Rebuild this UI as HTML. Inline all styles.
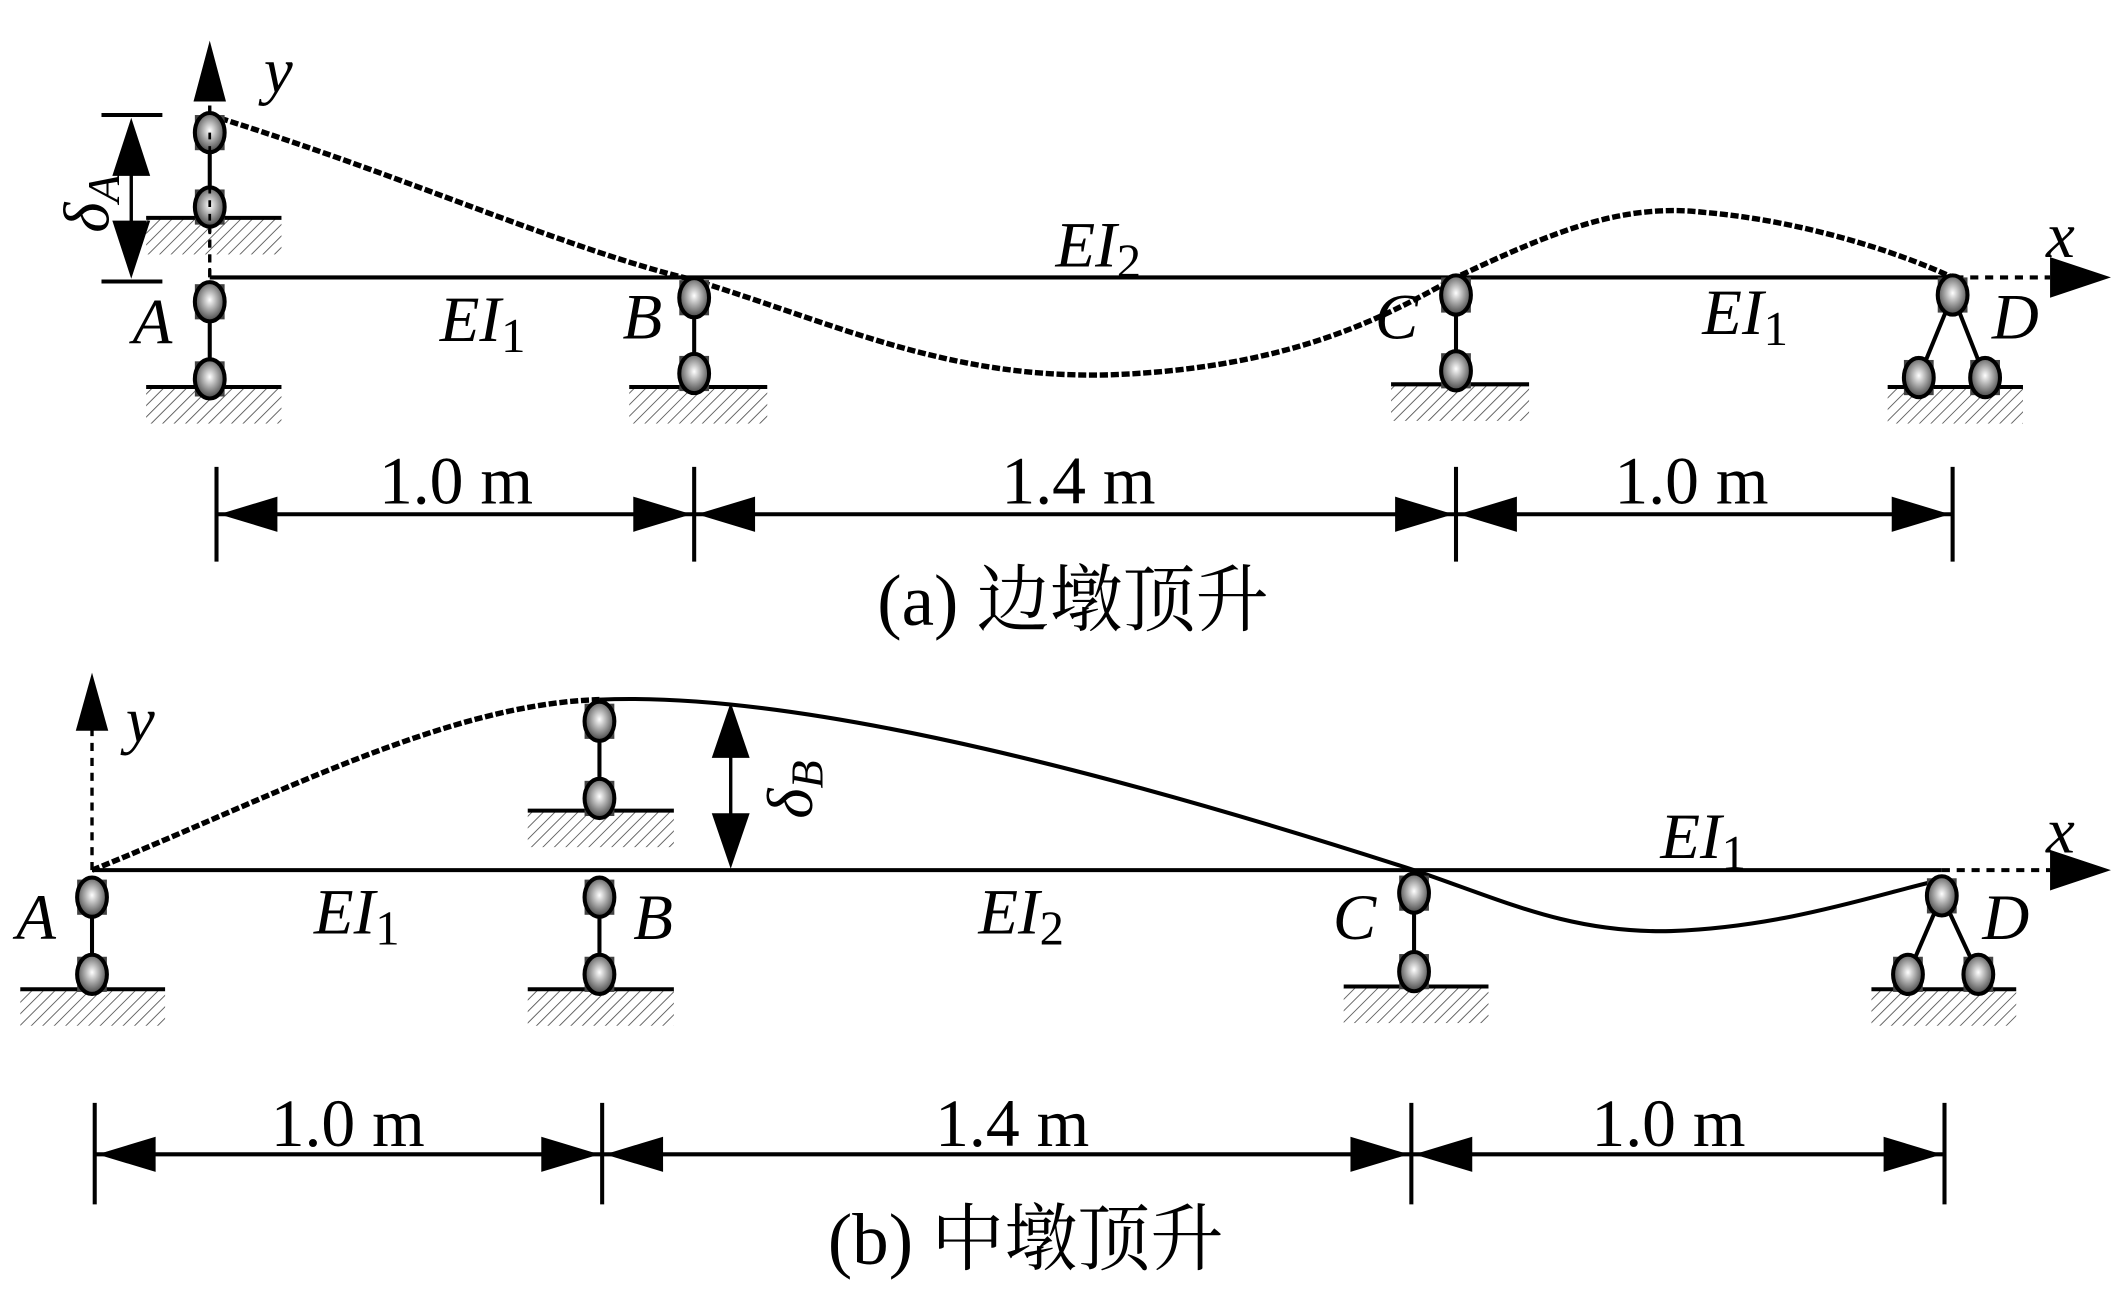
<!DOCTYPE html>
<html><head><meta charset="utf-8"><style>
html,body{margin:0;padding:0;background:#fff;}
svg{display:block}
text{font-family:"Liberation Serif","Noto Serif CJK SC",serif;fill:#000}
.it{font-style:italic}
</style></head><body>
<svg width="2115" height="1291" viewBox="0 0 1563 954" preserveAspectRatio="none" xmlns="http://www.w3.org/2000/svg">
<defs>
<radialGradient id="g" cx="50%" cy="45%" r="60%"><stop offset="0" stop-color="#fff"/><stop offset="0.5" stop-color="#999"/><stop offset="1" stop-color="#333"/></radialGradient>
<pattern id="h" width="6" height="6" patternUnits="userSpaceOnUse" patternTransform="rotate(45)"><line x1="0" y1="0" x2="0" y2="6" stroke="#555" stroke-width="1.3"/></pattern>
<g id="b"><rect x="-11" y="-13" width="22" height="26" fill="#444"/><ellipse rx="11" ry="14.5" fill="url(#g)" stroke="#000" stroke-width="3"/></g>
</defs>

<!-- ============ TOP PANEL ============ -->
<g stroke="#000" fill="none">
<line x1="155" y1="205" x2="1445" y2="205" stroke-width="3"/>
<line x1="1445" y1="205" x2="1515" y2="205" stroke-width="3" stroke-dasharray="6,5"/>
<line x1="155" y1="205" x2="155" y2="72" stroke-width="2.5" stroke-dasharray="6,5"/>
<path d="M155,85 C300,130 420,185 513,207 C620,240 700,280 820,277 C960,272 1030,230 1076,205 C1150,170 1200,150 1260,157 C1330,163 1400,185 1443,205" stroke-width="4" stroke-dasharray="6,2"/>
<line x1="75" y1="85" x2="120" y2="85" stroke-width="3"/>
<line x1="75" y1="208" x2="120" y2="208" stroke-width="3"/>
<line x1="97" y1="120" x2="97" y2="175" stroke-width="2.5"/>
</g>
<path d="M155,30 L143,75 L167,75Z"/>
<path d="M1560,205 L1515,190 L1515,220Z"/>
<path d="M97,87 L83,130 L111,130Z"/><path d="M97,206 L83,163 L111,163Z"/>
<rect x="108" y="162" width="100" height="26" fill="url(#h)"/><line x1="108" y1="161" x2="208" y2="161" stroke="#000" stroke-width="3"/>
<rect x="108" y="287" width="100" height="26" fill="url(#h)"/><line x1="108" y1="286" x2="208" y2="286" stroke="#000" stroke-width="3"/>
<rect x="465" y="287" width="102" height="26" fill="url(#h)"/><line x1="465" y1="286" x2="567" y2="286" stroke="#000" stroke-width="3"/>
<rect x="1028" y="285" width="102" height="26" fill="url(#h)"/><line x1="1028" y1="284" x2="1130" y2="284" stroke="#000" stroke-width="3"/>
<rect x="1395" y="287" width="100" height="26" fill="url(#h)"/><line x1="1395" y1="286" x2="1495" y2="286" stroke="#000" stroke-width="3"/>
<g stroke="#000" stroke-width="3"><line x1="155" y1="98" x2="155" y2="153"/><line x1="155" y1="223" x2="155" y2="280"/><line x1="513" y1="220" x2="513" y2="276"/><line x1="1076" y1="218" x2="1076" y2="274"/><line x1="1443" y1="218" x2="1418" y2="279"/><line x1="1443" y1="218" x2="1467" y2="279"/></g>
<use href="#b" x="155" y="98"/><use href="#b" x="155" y="153"/><use href="#b" x="155" y="223"/><use href="#b" x="155" y="280"/>
<use href="#b" x="513" y="220"/><use href="#b" x="513" y="276"/>
<use href="#b" x="1076" y="218"/><use href="#b" x="1076" y="274"/>
<use href="#b" x="1443" y="218"/><use href="#b" x="1418" y="279"/><use href="#b" x="1467" y="279"/>
<line x1="155" y1="98" x2="155" y2="205" stroke="#000" stroke-width="2" stroke-dasharray="5,5"/>
<g font-size="48">
<text x="195" y="68" class="it">y</text>
<text x="1512" y="190" class="it">x</text>
<text x="98" y="254" class="it">A</text>
<text x="460" y="250" class="it">B</text>
<text x="1016" y="250" class="it">C</text>
<text x="1472" y="250" class="it">D</text>
<text x="325" y="252" class="it">EI<tspan font-style="normal" font-size="36" dy="8">1</tspan></text>
<text x="780" y="197" class="it">EI<tspan font-style="normal" font-size="36" dy="8">2</tspan></text>
<text x="1258" y="247" class="it">EI<tspan font-style="normal" font-size="36" dy="8">1</tspan></text>
<text transform="translate(80,172) rotate(-90)" class="it">δ<tspan font-size="34" dy="8">A</tspan></text>
</g>
<g stroke="#000" stroke-width="3"><line x1="160" y1="345" x2="160" y2="415"/><line x1="513" y1="345" x2="513" y2="415"/><line x1="1076" y1="345" x2="1076" y2="415"/><line x1="1443" y1="345" x2="1443" y2="415"/>
<line x1="160" y1="380" x2="1443" y2="380"/></g>
<g><path d="M162,380 L205,367 L205,393Z"/><path d="M511,380 L468,367 L468,393Z"/><path d="M515,380 L558,367 L558,393Z"/><path d="M1074,380 L1031,367 L1031,393Z"/><path d="M1078,380 L1121,367 L1121,393Z"/><path d="M1441,380 L1398,367 L1398,393Z"/></g>
<g font-size="50" text-anchor="middle"><text x="337" y="372">1.0 m</text><text x="797" y="372">1.4 m</text><text x="1250" y="372">1.0 m</text>
<text x="793" y="462" font-size="54">(a) 边墩顶升</text></g>

<!-- ============ BOTTOM PANEL ============ -->
<g stroke="#000" fill="none">
<line x1="68" y1="643" x2="1435" y2="643" stroke-width="3"/>
<line x1="1435" y1="643" x2="1515" y2="643" stroke-width="3" stroke-dasharray="6,5"/>
<line x1="68" y1="643" x2="68" y2="538" stroke-width="2.5" stroke-dasharray="6,5"/>
<path d="M68,643 C200,590 330,520 443,517" stroke-width="4" stroke-dasharray="6,2"/>
<path d="M443,517 C600,510 850,580 1045,643 C1110,665 1160,690 1235,688 C1320,685 1390,660 1435,650" stroke-width="3"/>
<line x1="540" y1="550" x2="540" y2="610" stroke-width="2.5"/>
</g>
<path d="M68,497 L56,540 L80,540Z"/>
<path d="M1560,643 L1515,628 L1515,658Z"/>
<path d="M540,519 L526,560 L554,560Z"/><path d="M540,642 L526,601 L554,601Z"/>
<rect x="15" y="732" width="107" height="26" fill="url(#h)"/><line x1="15" y1="731" x2="122" y2="731" stroke="#000" stroke-width="3"/>
<rect x="390" y="600" width="108" height="26" fill="url(#h)"/><line x1="390" y1="599" x2="498" y2="599" stroke="#000" stroke-width="3"/>
<rect x="390" y="732" width="108" height="26" fill="url(#h)"/><line x1="390" y1="731" x2="498" y2="731" stroke="#000" stroke-width="3"/>
<rect x="993" y="730" width="107" height="26" fill="url(#h)"/><line x1="993" y1="729" x2="1100" y2="729" stroke="#000" stroke-width="3"/>
<rect x="1383" y="732" width="107" height="26" fill="url(#h)"/><line x1="1383" y1="731" x2="1490" y2="731" stroke="#000" stroke-width="3"/>
<g stroke="#000" stroke-width="3"><line x1="68" y1="663" x2="68" y2="720"/><line x1="443" y1="533" x2="443" y2="590"/><line x1="443" y1="663" x2="443" y2="720"/><line x1="1045" y1="660" x2="1045" y2="718"/><line x1="1435" y1="662" x2="1410" y2="720"/><line x1="1435" y1="662" x2="1462" y2="720"/></g>
<use href="#b" x="68" y="663"/><use href="#b" x="68" y="720"/>
<use href="#b" x="443" y="533"/><use href="#b" x="443" y="590"/><use href="#b" x="443" y="663"/><use href="#b" x="443" y="720"/>
<use href="#b" x="1045" y="660"/><use href="#b" x="1045" y="718"/>
<use href="#b" x="1435" y="662"/><use href="#b" x="1410" y="720"/><use href="#b" x="1462" y="720"/>
<g font-size="48">
<text x="93" y="548" class="it">y</text>
<text x="1512" y="630" class="it">x</text>
<text x="12" y="694" class="it">A</text>
<text x="468" y="694" class="it">B</text>
<text x="985" y="694" class="it">C</text>
<text x="1465" y="694" class="it">D</text>
<text x="232" y="690" class="it">EI<tspan font-style="normal" font-size="36" dy="8">1</tspan></text>
<text x="723" y="690" class="it">EI<tspan font-style="normal" font-size="36" dy="8">2</tspan></text>
<text x="1227" y="634" class="it">EI<tspan font-style="normal" font-size="36" dy="8">1</tspan></text>
<text transform="translate(600,605) rotate(-90)" class="it">δ<tspan font-size="34" dy="8">B</tspan></text>
</g>
<g stroke="#000" stroke-width="3"><line x1="70" y1="815" x2="70" y2="890"/><line x1="445" y1="815" x2="445" y2="890"/><line x1="1043" y1="815" x2="1043" y2="890"/><line x1="1437" y1="815" x2="1437" y2="890"/>
<line x1="70" y1="853" x2="1437" y2="853"/></g>
<g><path d="M72,853 L115,840 L115,866Z"/><path d="M443,853 L400,840 L400,866Z"/><path d="M447,853 L490,840 L490,866Z"/><path d="M1041,853 L998,840 L998,866Z"/><path d="M1045,853 L1088,840 L1088,866Z"/><path d="M1435,853 L1392,840 L1392,866Z"/></g>
<g font-size="50" text-anchor="middle"><text x="257" y="847">1.0 m</text><text x="748" y="847">1.4 m</text><text x="1233" y="847">1.0 m</text>
<text x="758" y="934" font-size="54">(b) 中墩顶升</text></g>
</svg>
</body></html>
